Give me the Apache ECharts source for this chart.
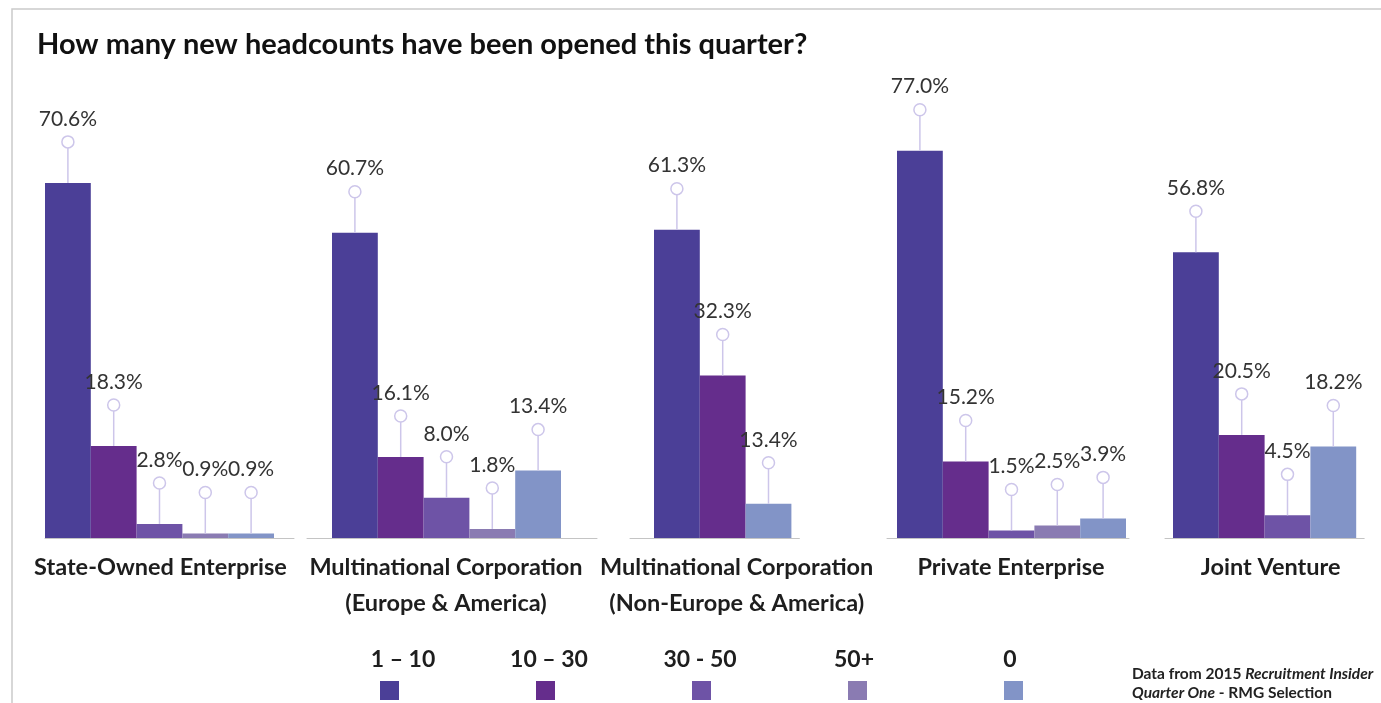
<!DOCTYPE html>
<html>
<head>
<meta charset="utf-8">
<title>New headcounts this quarter</title>
<script src="https://cdn.jsdelivr.net/npm/echarts@6/dist/echarts.min.js"></script>
<style>
    html, body { margin: 0; padding: 0; background: #fff; }
    #chart { width: 1381px; height: 703px; }
</style>
</head>
<body>
<div id="chart"></div>
<script>
// 分类（每组一个小图）
const groupNames = [
    'State-Owned Enterprise',
    'Multinational Corporation\n(Europe & America)',
    'Multinational Corporation\n(Non-Europe & America)',
    'Private Enterprise',
    'Joint Venture'
];
// 图例 / 区间
const buckets = ['1 – 10', '10 – 30', '30 - 50', '50+', '0'];
const bucketColors = ['#4b3f97', '#652d8c', '#6e53a6', '#8a7bb2', '#8294c7'];

// 各组柱高（null = 该区间无柱）
const stateOwned = [70.6, 18.3, 2.8, 0.9, 0.9];
const mncEurope = [60.7, 16.1, 8.0, 1.8, 13.4];
const mncNonEurope = [61.3, 32.3, null, null, 6.8]; // 原图 "0" 柱比 13.4% 标签矮
const privateEnt = [77.0, 15.2, 1.5, 2.5, 3.9];
const jointVenture = [56.8, 20.5, 4.5, null, 18.2];
const groupValues = [stateOwned, mncEurope, mncNonEurope, privateEnt, jointVenture];

// 柱顶标签文字
const stateOwnedLabels = ['70.6%', '18.3%', '2.8%', '0.9%', '0.9%'];
const mncEuropeLabels = ['60.7%', '16.1%', '8.0%', '1.8%', '13.4%'];
const mncNonEuropeLabels = ['61.3%', '32.3%', null, null, '13.4%'];
const privateEntLabels = ['77.0%', '15.2%', '1.5%', '2.5%', '3.9%'];
const jointVentureLabels = ['56.8%', '20.5%', '4.5%', null, '18.2%'];
const groupLabels = [stateOwnedLabels, mncEuropeLabels, mncNonEuropeLabels, privateEntLabels, jointVentureLabels];

// 布局：柱组左边、轴线左右延伸、名称水平偏移
const barW = 45.8;
const barsLeft = [45, 332, 654, 897, 1173];
const padLeft = [0, 25, 24, 10, 8];
const padRight = [20, 36, 8, 3, 8];
const nameShift = [-9, -6, 22, 3, 6];

const FONT = 'Lato, "Open Sans", sans-serif';
const pinColor = '#cdc6ea';
const pinLen = 41;

const chart = echarts.init(document.getElementById('chart'));

const grids = [], xAxes = [], yAxes = [], series = [];
groupValues.forEach((vals, g) => {
    // 只保留有值的柱，连续排列
    const bars = [];
    vals.forEach((v, b) => { if (v != null) bars.push({ b, v, label: groupLabels[g][b] }); });
    const n = bars.length;
    grids.push({
        left: barsLeft[g] - padLeft[g],
        width: n * barW + padLeft[g] + padRight[g],
        top: 35,
        height: 503
    });
    const sh = nameShift[g];
    xAxes.push({
        type: 'value',
        gridIndex: g,
        min: -0.5 - padLeft[g] / barW,
        max: n - 0.5 + padRight[g] / barW,
        axisLine: { show: true, lineStyle: { color: '#c4c4c4', width: 1 } },
        axisTick: { show: false },
        axisLabel: { show: false },
        splitLine: { show: false },
        name: groupNames[g],
        nameLocation: 'middle',
        nameGap: 11,
        nameTextStyle: {
            fontFamily: FONT, fontSize: 23.5, fontWeight: 'bold', color: '#1e1e1e',
            lineHeight: 36, verticalAlign: 'top',
            padding: [0, sh < 0 ? -2 * sh : 0, 0, sh > 0 ? 2 * sh : 0]
        }
    });
    yAxes.push({
        type: 'value', gridIndex: g, min: 0, max: 100, show: false
    });
    buckets.forEach((name, b) => {
        const data = [];
        bars.forEach((item, x) => { if (item.b === b) data.push([x, item.v]); });
        series.push({
            type: 'bar',
            name: name,
            xAxisIndex: g,
            yAxisIndex: g,
            stack: 'g' + g,
            barWidth: barW,
            itemStyle: { color: bucketColors[b] },
            data: data,
            animation: false
        });
    });
    // 柱顶的“大头针”和百分比标签
    series.push({
        type: 'custom',
        xAxisIndex: g,
        yAxisIndex: g,
        clip: false,
        z: 5,
        silent: true,
        animation: false,
        data: bars.map((item, x) => [x, item.v]),
        renderItem: function (params, api) {
            const p = api.coord([api.value(0), api.value(1)]);
            const label = bars[params.dataIndex].label;
            const cy = p[1] - pinLen;
            return {
                type: 'group',
                children: [
                    { type: 'line', shape: { x1: p[0], y1: p[1], x2: p[0], y2: cy + 6 },
                      style: { stroke: pinColor, lineWidth: 1.5 } },
                    { type: 'circle', shape: { cx: p[0], cy: cy, r: 6 },
                      style: { fill: '#fff', stroke: pinColor, lineWidth: 1.5 } },
                    { type: 'text', x: p[0], y: cy - 23,
                      style: { text: label, align: 'center', verticalAlign: 'middle',
                               fontFamily: FONT, fontSize: 21, fill: '#333' } }
                ]
            };
        }
    });
});

// 图例文字（在色块上方）
const legendTextX = [403, 549, 700, 854, 1010];

chart.setOption({
    backgroundColor: '#fff',
    animation: false,
    title: {
        text: 'How many new headcounts have been opened this quarter?',
        left: 37,
        top: 30,
        padding: 0,
        textStyle: { fontFamily: FONT, fontSize: 29, fontWeight: 'bold', color: '#111' }
    },
    legend: {
        data: buckets,
        left: 380,
        top: 681,
        padding: 0,
        icon: 'rect',
        itemWidth: 19,
        itemHeight: 19,
        itemGap: 137,
        selectedMode: false,
        formatter: function () { return ''; }
    },
    grid: grids,
    xAxis: xAxes,
    yAxis: yAxes,
    series: series,
    graphic: [
        {
            type: 'rect',
            shape: { x: 12, y: 9, width: 1400, height: 800 },
            style: { fill: 'none', stroke: '#cacaca', lineWidth: 1.5 },
            silent: true
        },
        ...buckets.map((name, i) => ({
            type: 'text',
            x: legendTextX[i],
            y: 660,
            style: {
                text: name, align: 'center', verticalAlign: 'middle',
                fontFamily: FONT, fontSize: 23, fontWeight: 'bold', fill: '#1e1e1e'
            }
        })),
        {
            type: 'text',
            left: 1132,
            top: 666,
            style: {
                text: '{b|Data from 2015 }{i|Recruitment Insider}\n{i|Quarter One}{b| - RMG Selection}',
                rich: {
                    b: { fontFamily: FONT, fontSize: 15.5, fontWeight: 'bold', fill: '#222', lineHeight: 19 },
                    i: { fontFamily: FONT, fontSize: 15.5, fontWeight: 'bold', fontStyle: 'italic', fill: '#222', lineHeight: 19 }
                }
            }
        }
    ]
});
</script>
</body>
</html>
